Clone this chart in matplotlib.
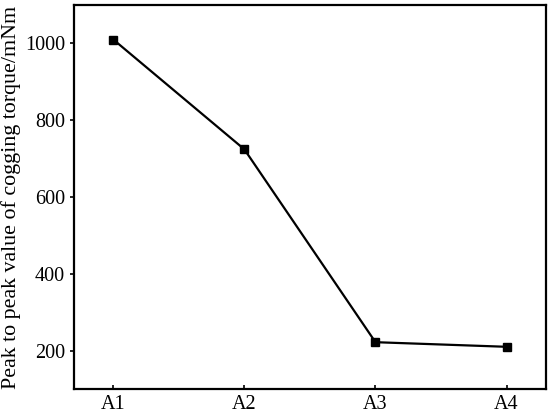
import matplotlib
matplotlib.use('Agg')
import matplotlib.pyplot as plt

# ---------- data ----------
labels = ['A1', 'A2', 'A3', 'A4']
torque = [1010, 724, 222, 210]

plt.rcParams['font.family'] = ['Liberation Serif', 'DejaVu Serif']
plt.rcParams['font.size'] = 14.5

fig = plt.figure(figsize=(5.5, 4.13), dpi=100)
ax = fig.add_axes([0.1345, 0.058, 0.858, 0.93])

x = list(range(len(labels)))
ax.plot(x, torque, color='black', lw=1.6, marker='s', ms=6)

ax.set_xlim(-0.3, 3.3)
ax.set_ylim(100, 1100)
ax.set_xticks(x)
ax.set_xticklabels(labels)
ax.set_yticks([200, 400, 600, 800, 1000])
ax.set_ylabel('Peak to peak value of cogging torque/mNm', fontsize=15.8, labelpad=3)

ax.tick_params(axis='x', direction='in', length=3, width=1.2, pad=4)
ax.tick_params(axis='y', direction='out', length=3, width=1.2)
for s in ax.spines.values():
    s.set_linewidth(1.6)

fig.savefig('out.png', dpi=100)
